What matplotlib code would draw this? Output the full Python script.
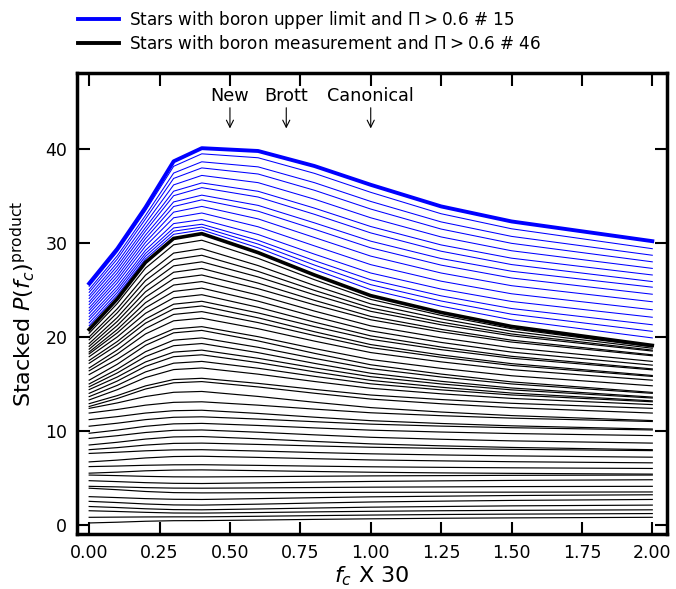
import matplotlib
matplotlib.use("Agg")
import numpy as np
import matplotlib.pyplot as plt
from matplotlib.lines import Line2D

# f_c grid (x axis is f_c X 30)
fc = [0.0, 0.1, 0.2, 0.3, 0.4, 0.6, 0.8, 1.0, 1.25, 1.5, 2.0]

# stacked levels, stars with boron measurement (bottom to top, 46 stars)
black_levels = [
    [0.20, 0.28, 0.38, 0.44, 0.45, 0.51, 0.58, 0.64, 0.70, 0.74, 0.80],
    [0.80, 0.82, 0.84, 0.85, 0.85, 0.91, 0.98, 1.04, 1.10, 1.14, 1.20],
    [1.50, 1.42, 1.33, 1.26, 1.25, 1.31, 1.38, 1.44, 1.50, 1.54, 1.60],
    [1.95, 1.84, 1.71, 1.62, 1.60, 1.69, 1.79, 1.88, 1.95, 2.02, 2.10],
    [2.50, 2.37, 2.22, 2.12, 2.10, 2.20, 2.32, 2.43, 2.52, 2.60, 2.70],
    [3.00, 2.90, 2.79, 2.72, 2.70, 2.79, 2.89, 2.98, 3.05, 3.12, 3.20],
    [3.90, 3.74, 3.55, 3.43, 3.40, 3.42, 3.44, 3.46, 3.47, 3.48, 3.50],
    [4.10, 4.04, 3.96, 3.91, 3.90, 3.93, 3.97, 4.01, 4.04, 4.07, 4.10],
    [4.70, 4.60, 4.49, 4.42, 4.40, 4.47, 4.55, 4.62, 4.68, 4.73, 4.80],
    [5.30, 5.24, 5.16, 5.11, 5.10, 5.13, 5.17, 5.21, 5.24, 5.27, 5.30],
    [5.50, 5.61, 5.75, 5.83, 5.85, 5.77, 5.68, 5.60, 5.53, 5.48, 5.40],
    [6.20, 6.26, 6.34, 6.39, 6.40, 6.33, 6.25, 6.18, 6.12, 6.07, 6.00],
    [6.70, 6.89, 7.12, 7.27, 7.30, 7.18, 7.04, 6.91, 6.81, 6.72, 6.60],
    [7.60, 7.73, 7.88, 7.98, 8.00, 7.86, 7.70, 7.56, 7.44, 7.34, 7.20],
    [8.00, 8.22, 8.49, 8.67, 8.70, 8.56, 8.40, 8.26, 8.14, 8.04, 7.90],
    [8.50, 8.79, 9.13, 9.36, 9.40, 9.16, 8.88, 8.62, 8.41, 8.24, 8.00],
    [9.20, 9.49, 9.83, 10.06, 10.10, 9.86, 9.58, 9.32, 9.11, 8.94, 8.70],
    [9.75, 10.09, 10.49, 10.75, 10.80, 10.58, 10.32, 10.08, 9.88, 9.72, 9.50],
    [10.50, 10.82, 11.20, 11.45, 11.50, 11.26, 10.98, 10.72, 10.51, 10.34, 10.10],
    [11.20, 11.52, 11.90, 12.15, 12.20, 11.86, 11.46, 11.09, 10.79, 10.54, 10.20],
    [11.90, 12.28, 12.74, 13.04, 13.10, 12.74, 12.32, 11.93, 11.62, 11.36, 11.00],
    [12.40, 12.98, 13.66, 14.11, 14.20, 13.67, 13.05, 12.48, 12.01, 11.63, 11.10],
    [12.60, 13.45, 14.46, 15.12, 15.25, 14.68, 14.01, 13.39, 12.89, 12.47, 11.90],
    [12.90, 13.76, 14.79, 15.47, 15.60, 15.06, 14.42, 13.82, 13.34, 12.94, 12.40],
    [13.30, 14.39, 15.68, 16.53, 16.70, 16.04, 15.26, 14.54, 13.95, 13.46, 12.80],
    [13.65, 14.85, 16.28, 17.21, 17.40, 16.67, 15.81, 15.01, 14.37, 13.83, 13.10],
    [14.00, 15.31, 16.87, 17.90, 18.10, 17.27, 16.29, 15.38, 14.65, 14.03, 13.20],
    [14.40, 15.74, 17.34, 18.39, 18.60, 17.73, 16.71, 15.77, 15.00, 14.37, 13.50],
    [14.70, 16.17, 17.92, 19.07, 19.30, 18.33, 17.19, 16.14, 15.28, 14.57, 13.60],
    [15.00, 16.57, 18.43, 19.66, 19.90, 18.90, 17.72, 16.63, 15.74, 15.00, 14.00],
    [15.40, 17.10, 19.11, 20.44, 20.70, 19.58, 18.26, 17.04, 16.05, 15.22, 14.10],
    [16.00, 17.63, 19.57, 20.85, 21.10, 20.03, 18.77, 17.60, 16.66, 15.87, 14.80],
    [16.40, 18.19, 20.32, 21.72, 22.00, 20.88, 19.56, 18.34, 17.35, 16.52, 15.40],
    [16.70, 18.62, 20.90, 22.40, 22.70, 21.53, 20.15, 18.87, 17.84, 16.97, 15.80],
    [17.20, 19.15, 21.47, 22.99, 23.30, 22.04, 20.56, 19.19, 18.08, 17.16, 15.90],
    [17.50, 19.52, 21.91, 23.49, 23.80, 22.56, 21.10, 19.75, 18.65, 17.74, 16.50],
    [17.90, 20.01, 22.52, 24.17, 24.50, 23.16, 21.58, 20.12, 18.93, 17.94, 16.60],
    [18.20, 20.44, 23.10, 24.85, 25.20, 23.81, 22.17, 20.65, 19.42, 18.39, 17.00],
    [18.40, 20.80, 23.65, 25.53, 25.90, 24.46, 22.76, 21.18, 19.91, 18.85, 17.40],
    [18.70, 21.23, 24.23, 26.21, 26.60, 25.14, 23.42, 21.83, 20.54, 19.46, 18.00],
    [19.00, 21.66, 24.81, 26.89, 27.30, 25.74, 23.90, 22.19, 20.81, 19.66, 18.10],
    [19.30, 22.08, 25.39, 27.57, 28.00, 26.39, 24.49, 22.73, 21.30, 20.12, 18.50],
    [19.70, 22.58, 26.00, 28.25, 28.70, 26.98, 24.96, 23.09, 21.58, 20.32, 18.60],
    [20.00, 23.01, 26.58, 28.93, 29.40, 27.60, 25.48, 23.52, 21.93, 20.60, 18.80],
    [20.40, 23.57, 27.33, 29.81, 30.30, 28.37, 26.10, 24.00, 22.30, 20.88, 18.95],
    [20.80, 24.06, 27.94, 30.49, 31.00, 28.98, 26.60, 24.40, 22.61, 21.12, 19.10],
]

# stacked levels, stars with boron upper limit (on top of the 46, 15 stars)
blue_levels = [
    [21.20, 24.45, 28.31, 30.93, 31.40, 29.49, 27.19, 25.04, 23.28, 21.83, 19.90],
    [21.50, 24.74, 28.59, 31.26, 31.70, 29.89, 27.66, 25.57, 23.83, 22.43, 20.60],
    [21.85, 25.06, 28.89, 31.61, 32.00, 30.29, 28.13, 26.09, 24.38, 23.03, 21.30],
    [22.15, 25.39, 29.23, 32.07, 32.50, 30.91, 28.82, 26.81, 25.10, 23.78, 22.10],
    [22.50, 25.77, 29.67, 32.69, 33.20, 31.73, 29.70, 27.70, 25.94, 24.60, 22.90],
    [22.80, 26.12, 30.07, 33.29, 33.90, 32.57, 30.59, 28.61, 26.81, 25.46, 23.75],
    [23.10, 26.47, 30.47, 33.89, 34.60, 33.39, 31.47, 29.49, 27.65, 26.28, 24.55],
    [23.45, 26.83, 30.85, 34.38, 35.10, 34.01, 32.15, 30.20, 28.35, 27.00, 25.30],
    [23.75, 27.19, 31.28, 35.04, 35.90, 34.90, 33.06, 31.08, 29.13, 27.71, 25.90],
    [24.10, 27.55, 31.65, 35.52, 36.40, 35.51, 33.72, 31.76, 29.80, 28.39, 26.60],
    [24.40, 27.91, 32.09, 36.19, 37.20, 36.43, 34.67, 32.69, 30.65, 29.18, 27.30],
    [24.75, 28.31, 32.56, 36.88, 38.00, 37.35, 35.62, 33.62, 31.49, 29.97, 28.00],
    [25.05, 28.65, 32.94, 37.45, 38.65, 38.11, 36.43, 34.43, 32.25, 30.71, 28.70],
    [25.40, 29.07, 33.43, 38.17, 39.50, 39.08, 37.42, 35.40, 33.12, 31.52, 29.40],
    [25.70, 29.40, 33.80, 38.70, 40.10, 39.80, 38.20, 36.20, 33.90, 32.30, 30.20],
]

models = ["New", "Brott", "Canonical"]
model_fc = [0.5, 0.7, 1.0]

legend_labels = [
    r"Stars with boron upper limit and $\Pi > 0.6$ # 15",
    r"Stars with boron measurement and $\Pi > 0.6$ # 46",
]


def make_plot():
    fig = plt.figure(figsize=(6.76, 5.89), dpi=100)
    ax = fig.add_axes([0.114, 0.093, 0.873, 0.783])

    n_black = len(black_levels)
    for i, row in enumerate(black_levels):
        lw = 2.6 if i == n_black - 1 else 0.85
        ax.plot(fc, row, color="black", lw=lw, zorder=3 if i == n_black - 1 else 2)

    n_blue = len(blue_levels)
    for i, row in enumerate(blue_levels):
        lw = 2.8 if i == n_blue - 1 else 0.75
        ax.plot(fc, row, color="blue", lw=lw, zorder=2)

    # model markers
    for name, x in zip(models, model_fc):
        ax.annotate(name, xy=(x, 42.2), xytext=(x, 44.7),
                    ha="center", va="bottom", fontsize=12.7,
                    arrowprops=dict(arrowstyle="->", lw=0.8, color="black",
                                    shrinkA=0, shrinkB=0))

    ax.set_xlim(-0.043, 2.053)
    ax.set_ylim(-1.0, 48.1)
    ax.set_xticks(np.arange(0, 2.01, 0.25))
    ax.set_yticks([0, 10, 20, 30, 40])
    ax.tick_params(axis="both", which="major", direction="in", length=9,
                   width=1.5, labelsize=12.5, top=True, right=True, pad=7)
    for sp in ax.spines.values():
        sp.set_linewidth(2.5)

    ax.set_xlabel(r"$f_c$ X 30", fontsize=16, labelpad=2)
    ax.set_ylabel(r"Stacked $P(f_c)^{\rm product}$", fontsize=16, labelpad=6)

    handles = [Line2D([], [], color="blue", lw=2.8),
               Line2D([], [], color="black", lw=2.8)]
    fig.legend(handles, legend_labels, loc="upper left",
               bbox_to_anchor=(0.093, 1.01), frameon=False, fontsize=12.2,
               handlelength=2.4, handletextpad=0.6, labelspacing=0.22)

    fig.savefig("out.png", dpi=100)
    plt.close(fig)


if __name__ == "__main__":
    make_plot()
